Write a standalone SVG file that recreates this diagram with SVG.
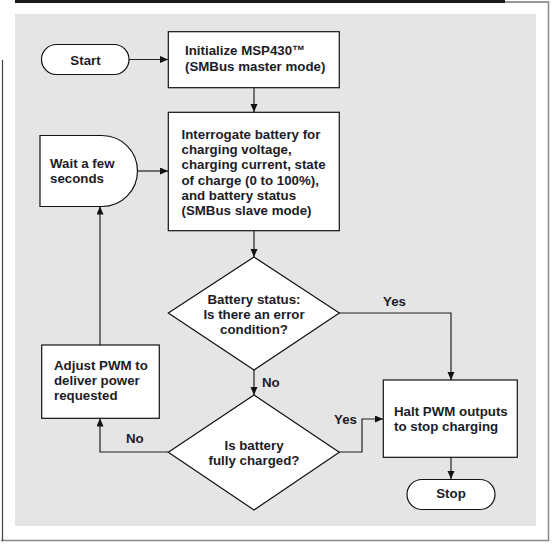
<svg xmlns="http://www.w3.org/2000/svg" width="553" height="546" viewBox="0 0 553 546">
<defs>
<marker id="arr" markerUnits="userSpaceOnUse" markerWidth="9" markerHeight="8" refX="8" refY="3.5" orient="auto">
<path d="M0,0 L8,3.5 L0,7 z" fill="#111"/>
</marker>
</defs>
<style>
.shape{fill:#fff;stroke:#111;stroke-width:1.2}
.conn{fill:none;stroke:#222;stroke-width:1.2}
text{font-family:"Liberation Sans",Arial,sans-serif;font-weight:bold;font-size:13.3px;fill:#1c1c28}
.c{text-anchor:middle}
</style>
<rect x="0" y="0" width="553" height="546" fill="#fff"/>
<g id="frame">
<rect x="15" y="14" width="521" height="512" fill="#e5e5e5"/>
<rect x="15" y="0" width="490" height="3" fill="#1a1a1a"/>
<line x1="505" y1="2" x2="549" y2="2" stroke="#333" stroke-width="1"/>
<line x1="548.5" y1="2" x2="548.5" y2="541" stroke="#888" stroke-width="1.5"/>
<line x1="1" y1="540.5" x2="549" y2="540.5" stroke="#888" stroke-width="1.5"/>
<line x1="2.5" y1="60" x2="2.5" y2="541" stroke="#444" stroke-width="1.2"/>
</g>
<g id="connectors">
<line class="conn" x1="129" y1="59.5" x2="168" y2="59.5" marker-end="url(#arr)"/>
<line class="conn" x1="254" y1="88" x2="254" y2="112" marker-end="url(#arr)"/>
<line class="conn" x1="254" y1="231" x2="254" y2="257" marker-end="url(#arr)"/>
<polyline class="conn" points="339,313 451,313 451,380" marker-end="url(#arr)"/>
<line class="conn" x1="254" y1="370" x2="254" y2="395" marker-end="url(#arr)"/>
<polyline class="conn" points="339,452 362,452 362,419 383,419" marker-end="url(#arr)"/>
<polyline class="conn" points="168,452 100,452 100,418.5" marker-end="url(#arr)"/>
<line class="conn" x1="100" y1="345" x2="100" y2="206.5" marker-end="url(#arr)"/>
<line class="conn" x1="137.5" y1="171" x2="168" y2="171" marker-end="url(#arr)"/>
<line class="conn" x1="451" y1="457" x2="451" y2="479" marker-end="url(#arr)"/>
<text x="383" y="306">Yes</text>
<text x="262" y="387">No</text>
<text x="334" y="424">Yes</text>
<text x="126" y="443">No</text>
</g>
<g id="start">
<rect class="shape" x="41.5" y="44.5" width="87.5" height="30" rx="15"/>
<text class="c" x="85.5" y="64.5">Start</text>
</g>
<g id="init">
<rect class="shape" x="168.3" y="31.7" width="171" height="56"/>
<text x="185" y="55">Initialize MSP430™</text>
<text x="185" y="71">(SMBus master mode)</text>
</g>
<g id="interrogate">
<rect class="shape" x="168.3" y="112.3" width="171" height="118.4"/>
<text x="181.5" y="139">Interrogate battery for</text>
<text x="181.5" y="154.2">charging voltage,</text>
<text x="181.5" y="169.4">charging current, state</text>
<text x="181.5" y="184.6">of charge (0 to 100%),</text>
<text x="181.5" y="199.8">and battery status</text>
<text x="181.5" y="215">(SMBus slave mode)</text>
</g>
<g id="wait">
<path class="shape" d="M40,135.5 H102 A35.5,35.5 0 0 1 102,206.5 H40 Z"/>
<text x="50" y="167.5">Wait a few</text>
<text x="50" y="182.5">seconds</text>
</g>
<g id="error-check">
<polygon class="shape" points="254,257 339.3,313 254,370 168.3,313"/>
<text class="c" x="254" y="304">Battery status:</text>
<text class="c" x="254" y="318.7">Is there an error</text>
<text class="c" x="254" y="333.5">condition?</text>
</g>
<g id="charged-check">
<polygon class="shape" points="254,395 339.3,452.3 254,510 168.3,452.3"/>
<text class="c" x="254" y="449.5">Is battery</text>
<text class="c" x="254" y="464.5">fully charged?</text>
</g>
<g id="adjust">
<rect class="shape" x="41.7" y="345" width="117.6" height="73.3"/>
<text x="54" y="370">Adjust PWM to</text>
<text x="54" y="385">deliver power</text>
<text x="54" y="400">requested</text>
</g>
<g id="halt">
<rect class="shape" x="383.3" y="380" width="134" height="77.3"/>
<text x="394" y="415.5">Halt PWM outputs</text>
<text x="394" y="430.5">to stop charging</text>
</g>
<g id="stop">
<rect class="shape" x="407" y="479.5" width="88" height="30" rx="15"/>
<text class="c" x="451" y="497.5">Stop</text>
</g>
</svg>
